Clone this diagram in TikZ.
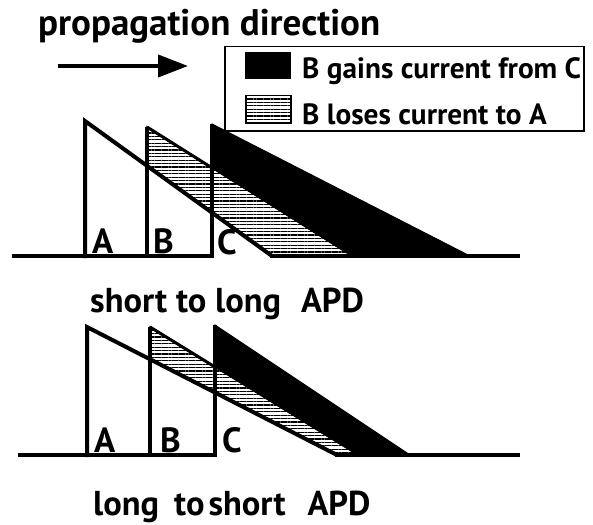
\documentclass[tikz,border=0pt]{standalone}
\usepackage{fontspec}
\setmainfont{PT Sans}
\usetikzlibrary{arrows.meta,patterns.meta}
\tikzset{
  wave/.style={line width=4pt, line join=miter, line cap=butt},
  hatchfill/.style={pattern={Lines[angle=0,distance=3.4pt,line width=1.3pt]}, draw=black, line width=1.5pt, line join=miter},
  blackfill/.style={fill=black, draw=black, line width=1pt, line join=miter},
  lbl/.style={font=\bfseries\fontsize{35}{35}\selectfont, inner sep=0pt, anchor=base west},
  title/.style={font=\bfseries\fontsize{37}{37}\selectfont, inner sep=0pt, anchor=base west},
  subtitle/.style={font=\bfseries\fontsize{34.5}{34.5}\selectfont, inner sep=0pt, anchor=base west},
  legtext/.style={font=\bfseries\fontsize{29.3}{29.3}\selectfont, inner sep=0pt, anchor=base west},
}
\begin{document}
\begin{tikzpicture}[x=1pt,y=-1pt]
\useasboundingbox (0,0) rectangle (593,524);
\fill[white] (0,0) rectangle (593,524);

% title and arrow
\node[title] (ttl) at (38,36) {propagation direction};
\coordinate (arS) at (58,66);
\coordinate (arE) at (188,66);
\draw[line width=4pt, -{Triangle[length=30pt,width=22pt]}] (arS) -- (arE);

% legend
\node[draw=black, line width=1.5pt, minimum width=359pt, minimum height=84pt, anchor=north west, inner sep=0pt] (leg) at (224,46) {};
\node[blackfill, minimum width=45pt, minimum height=26pt, inner sep=0pt, anchor=north west] (swB) at (245,52) {};
\node[hatchfill, minimum width=45pt, minimum height=27pt, inner sep=0pt, anchor=north west] (swH) at (245,95) {};
\node[legtext] (lt1) at (302,78) {B gains current from C};
\node[legtext] (lt2) at (302,124) {B loses current to A};

% ---------- top panel : short to long ----------
\path[hatchfill] (147,127) -- (352,256) -- (272,256) -- (147,165.8) -- cycle;
\path[blackfill] (212,124) -- (470,256) -- (352,256) -- (212,167.9) -- cycle;
\draw[line width=3pt] (147,127) -- (212,167.9);
\draw[wave] (12,256) -- (214,256);
\draw[wave] (85,258) -- (85,121) -- (272,256);
\draw[wave] (147,258) -- (147,127);
\draw[wave] (212,258) -- (212,124);
\draw[wave] (270,256) -- (520,256);
\node[lbl] (a1) at (92,253) {A};
\node[lbl] (b1) at (153,253) {B};
\node[lbl] (c1) at (217,254) {C};
\node[subtitle] (t1) at (90,312) {short to long\hspace{20pt}APD};

% ---------- bottom panel : long to short ----------
\path[hatchfill] (150,327) -- (358,455) -- (337,455) -- (150,359.3) -- cycle;
\path[blackfill] (215,325) -- (410,455) -- (358,455) -- (215,367) -- cycle;
\draw[line width=3pt] (150,327) -- (215,367);
\draw[wave] (18,455) -- (217,455);
\draw[wave] (87,457) -- (87,327) -- (337,455);
\draw[wave] (150,457) -- (150,327);
\draw[wave] (215,457) -- (215,325);
\draw[wave] (335,455) -- (520,455);
\node[lbl] (a2) at (94,452) {A};
\node[lbl] (b2) at (160,452) {B};
\node[lbl] (c2) at (222,452) {C};
\node[subtitle] (t2) at (93,515) {long\hspace{15pt}to\hspace{4pt}short\hspace{22pt}APD};
\end{tikzpicture}
\end{document}
